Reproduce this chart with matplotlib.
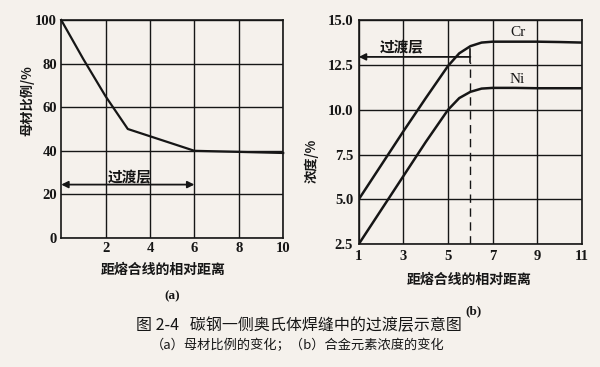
import matplotlib
matplotlib.use("Agg")
import matplotlib.pyplot as plt

plt.rcParams['font.family'] = ['Noto Sans CJK SC', 'DejaVu Sans']

# (a) base-metal fraction vs. relative distance from fusion line
dist_a = [0, 1, 2, 3, 6, 10]
base_ratio = [100, 82, 65, 50, 40, 39]
a_xticks = [2, 4, 6, 8, 10]
a_yticks = [0, 20, 40, 60, 80, 100]

# (b) alloy element concentration vs. relative distance
dist_b = [1, 2, 3, 4, 5, 5.5, 6, 6.5, 7, 8, 9, 10, 11]
cr_conc = [5.0, 6.9, 8.8, 10.65, 12.45, 13.15, 13.55, 13.75, 13.8, 13.8, 13.8, 13.78, 13.75]
ni_conc = [2.5, 4.4, 6.3, 8.2, 10.0, 10.65, 11.0, 11.18, 11.22, 11.22, 11.2, 11.2, 11.2]
b_xticks = [1, 3, 5, 7, 9, 11]
b_yticks = [2.5, 5.0, 7.5, 10.0, 12.5, 15.0]

transition_end = 6

bg = '#f5f1ec'
ink = '#161616'
num_font = dict(family=['Liberation Serif', 'DejaVu Serif'], fontsize=10.5, fontweight='bold')

fig = plt.figure(figsize=(6.0, 3.67), dpi=100, facecolor=bg)

# ---------- panel (a) ----------
ax1 = fig.add_axes([0.102, 0.3515, 0.370, 0.594])
ax1.set_facecolor(bg)
ax1.set_xlim(0, 10)
ax1.set_ylim(0, 100)
ax1.set_xticks(a_xticks)
ax1.set_yticks(a_yticks)
ax1.set_xticklabels([str(v) for v in a_xticks], **num_font)
ax1.set_yticklabels([str(v) for v in a_yticks], **num_font)
ax1.grid(True, color=ink, lw=1.0)
ax1.tick_params(length=0, pad=3, colors=ink)
for s in ax1.spines.values():
    s.set_color(ink)
    s.set_linewidth(1.2)
ax1.plot(dist_a, base_ratio, color=ink, lw=1.6, clip_on=False, zorder=3)
ax1.annotate('', xy=(0, 24.5), xytext=(transition_end, 24.5),
             arrowprops=dict(arrowstyle='<|-|>', color=ink, lw=1.3,
                             mutation_scale=10, shrinkA=0, shrinkB=0))
ax1.text(3.1, 27.8, '过渡层', ha='center', va='center', fontsize=10.5,
         color=ink, fontweight='bold')

# ---------- panel (b) ----------
ax2 = fig.add_axes([0.598, 0.335, 0.372, 0.610])
ax2.set_facecolor(bg)
ax2.set_xlim(1, 11)
ax2.set_ylim(2.5, 15.0)
ax2.set_xticks(b_xticks)
ax2.set_yticks(b_yticks)
ax2.set_xticklabels([str(v) for v in b_xticks], **num_font)
ax2.set_yticklabels(['%.1f' % v for v in b_yticks], **num_font)
ax2.grid(True, color=ink, lw=1.0)
ax2.tick_params(length=0, pad=4, colors=ink)
for s in ax2.spines.values():
    s.set_color(ink)
    s.set_linewidth(1.2)
ax2.plot(dist_b, cr_conc, color=ink, lw=1.8, zorder=3)
ax2.plot(dist_b, ni_conc, color=ink, lw=1.8, zorder=3)
ax2.text(8.15, 14.3, 'Cr', ha='center', va='center', fontsize=11,
         family=['Liberation Serif', 'DejaVu Serif'], color=ink)
ax2.text(8.1, 11.7, 'Ni', ha='center', va='center', fontsize=11,
         family=['Liberation Serif', 'DejaVu Serif'], color=ink)
ax2.annotate('', xy=(1, 12.95), xytext=(transition_end, 12.95),
             arrowprops=dict(arrowstyle='-|>', color=ink, lw=1.3,
                             mutation_scale=10, shrinkA=0, shrinkB=0))
ax2.plot([transition_end, transition_end], [12.65, 13.4], color=ink, lw=1.2)
ax2.plot([transition_end, transition_end], [2.5, 12.65], color=ink, lw=1.0,
         ls=(0, (6, 4)))
ax2.text(2.9, 13.5, '过渡层', ha='center', va='center', fontsize=10.5,
         color=ink, fontweight='bold')

# ---------- axis titles and captions ----------
fig.text(27 / 600, 1 - 101 / 367, '母材比例/%', rotation=90, ha='center',
         va='center', fontsize=9.5, color=ink, fontweight='bold')
fig.text(311 / 600, 1 - 161 / 367, '浓度/%', rotation=90, ha='center',
         va='center', fontsize=9.5, color=ink, fontweight='bold')
fig.text(163 / 600, 1 - 270 / 367, '距熔合线的相对距离', ha='center',
         va='center', fontsize=10, color=ink, fontweight='bold')
fig.text(469 / 600, 1 - 280 / 367, '距熔合线的相对距离', ha='center',
         va='center', fontsize=10, color=ink, fontweight='bold')
fig.text(172 / 600, 1 - 296 / 367, '(a)', ha='center', va='center',
         fontsize=9.5, color=ink, family=['Liberation Serif', 'DejaVu Serif'],
         fontweight='bold')
fig.text(474 / 600, 1 - 311 / 367, '(b)', ha='center', va='center',
         fontsize=9.5, color=ink, family=['Liberation Serif', 'DejaVu Serif'],
         fontweight='bold')
fig.text(299 / 600, 1 - 326 / 367, '图 2-4   碳钢一侧奥氏体焊缝中的过渡层示意图',
         ha='center', va='center', fontsize=11.5, color=ink)
fig.text(298 / 600, 1 - 345 / 367, '（a）母材比例的变化；（b）合金元素浓度的变化',
         ha='center', va='center', fontsize=9.5, color=ink)

fig.savefig('out.png', dpi=100, facecolor=bg)
